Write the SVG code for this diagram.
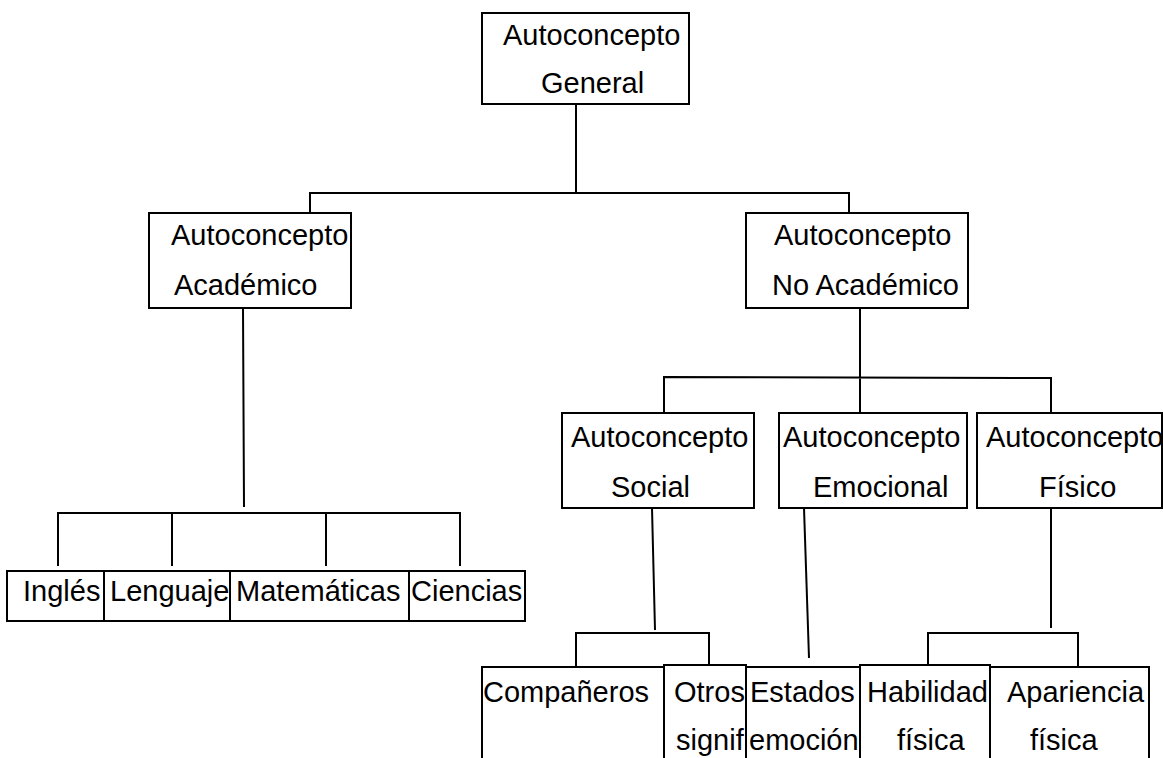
<svg xmlns="http://www.w3.org/2000/svg" width="1163" height="758" viewBox="0 0 1163 758">
<style>
.box{fill:#fff;stroke:#000;stroke-width:2}
.c{fill:none;stroke:#000;stroke-width:2}
text{font-family:"Liberation Sans",Arial,sans-serif;font-size:29px;fill:#000}
</style>
<rect width="1163" height="758" fill="#fff"/>
<g id="connectors">
<path class="c" d="M576,104V193M310,213V193H849V213"/>
<path class="c" d="M243,308L244,507M58,566V513H460V566M172,513V566M326,513V566"/>
<path class="c" d="M860,308V413M664,413V377L1051,378V413"/>
<path class="c" d="M652,508L655,630M576,667V633H709V665"/>
<path class="c" d="M804,508L809,658"/>
<path class="c" d="M1051,508V628M928,665V633H1078V667"/>
</g>
<g id="general"><rect class="box" x="482" y="13" width="207" height="91"/><text x="503" y="45">Autoconcepto</text><text x="541" y="93">General</text></g>
<g id="academico"><rect class="box" x="149" y="213" width="202" height="95"/><text x="171" y="245">Autoconcepto</text><text x="174" y="295">Académico</text></g>
<g id="noacademico"><rect class="box" x="746" y="213" width="222" height="95"/><text x="774" y="245">Autoconcepto</text><text x="772" y="295">No Académico</text></g>
<g id="social"><rect class="box" x="562" y="413" width="192" height="95"/><text x="571" y="447">Autoconcepto</text><text x="611" y="497">Social</text></g>
<g id="emocional"><rect class="box" x="779" y="413" width="188" height="95"/><text x="783" y="447">Autoconcepto</text><text x="813" y="497">Emocional</text></g>
<g id="fisico"><rect class="box" x="977" y="413" width="185" height="95"/><text x="986" y="447">Autoconcepto</text><text x="1039" y="497">Físico</text></g>
<g id="ingles"><rect class="box" x="7" y="571" width="97" height="50"/><text x="23" y="601">Inglés</text></g>
<g id="lenguaje"><rect class="box" x="104" y="571" width="126" height="50"/><text x="110" y="601">Lenguaje</text></g>
<g id="matematicas"><rect class="box" x="230" y="571" width="179" height="50"/><text x="236" y="601">Matemáticas</text></g>
<g id="ciencias"><rect class="box" x="409" y="571" width="116" height="50"/><text x="411" y="601">Ciencias</text></g>
<g id="companeros"><rect class="box" x="482" y="667" width="182" height="110"/><text x="483" y="702">Compañeros</text></g>
<g id="otros"><rect class="box" x="664" y="665" width="82" height="110"/><text x="674" y="702">Otros</text><text x="676" y="750">signif</text></g>
<g id="estados"><rect class="box" x="746" y="667" width="114" height="110"/><text x="750" y="702">Estados</text><text x="749" y="750">emoción</text></g>
<g id="habilidad"><rect class="box" x="860" y="665" width="130" height="110"/><text x="867" y="702">Habilidad</text><text x="897" y="750">física</text></g>
<g id="apariencia"><rect class="box" x="990" y="667" width="159" height="110"/><text x="1007" y="702">Apariencia</text><text x="1030" y="750">física</text></g>
</svg>
